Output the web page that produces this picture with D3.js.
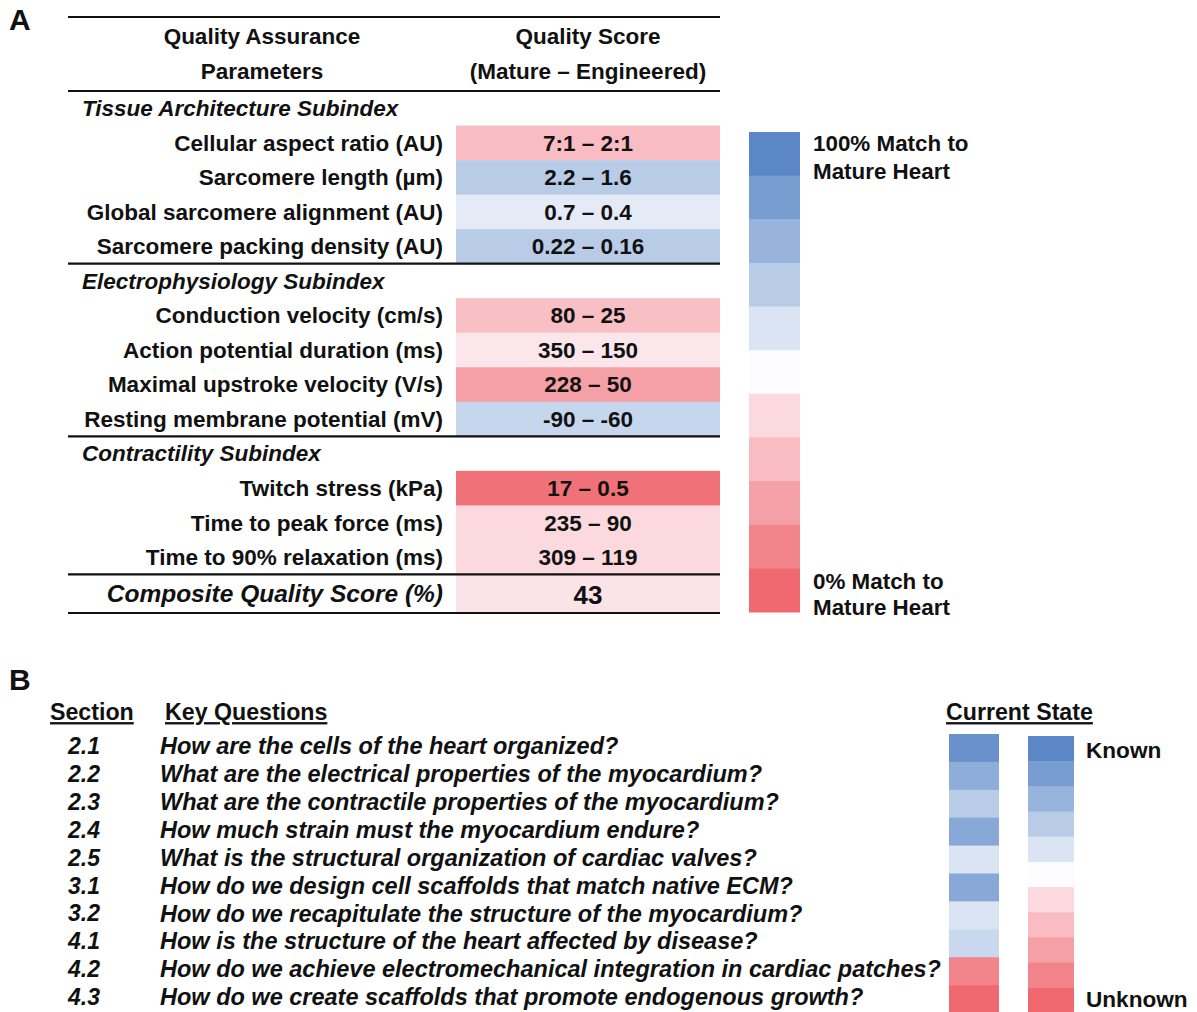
<!DOCTYPE html>
<html>
<head>
<meta charset="utf-8">
<script src="https://cdn.jsdelivr.net/npm/d3@7"></script>
<style>
  body { margin: 0; background: #fff; }
  text { fill: #111; font-family: "Liberation Sans", Arial, sans-serif; font-weight: bold; }
</style>
</head>
<body>
<div id="chart"></div>
<script>
// panel A: quality assurance table
let sections = ['Tissue Architecture Subindex', 'Electrophysiology Subindex', 'Contractility Subindex'];
let params = [
  'Cellular aspect ratio (AU)', 'Sarcomere length (\u00b5m)', 'Global sarcomere alignment (AU)', 'Sarcomere packing density (AU)',
  'Conduction velocity (cm/s)', 'Action potential duration (ms)', 'Maximal upstroke velocity (V/s)', 'Resting membrane potential (mV)',
  'Twitch stress (kPa)', 'Time to peak force (ms)', 'Time to 90% relaxation (ms)'
];
let paramSection = [0, 0, 0, 0, 1, 1, 1, 1, 2, 2, 2];
let scoreLabels = ['7:1 \u2013 2:1', '2.2 \u2013 1.6', '0.7 \u2013 0.4', '0.22 \u2013 0.16',
  '80 \u2013 25', '350 \u2013 150', '228 \u2013 50', '-90 \u2013 -60',
  '17 \u2013 0.5', '235 \u2013 90', '309 \u2013 119'];
// % match to mature heart
let matchPct = [30, 70, 57, 70, 31, 44, 20, 66, 3, 40, 40];
let compositeScore = 43;

// colour key: 100% match (top) to 0% match (bottom)
let keySteps = [100, 90, 80, 70, 60, 50, 40, 30, 20, 10, 0];
let keyColors = ['#5b87c6', '#779dd1', '#98b4dd', '#b8cce8', '#dae4f3', '#fcfcfe',
  '#fbd9de', '#f8bcc2', '#f5a0a6', '#f2858b', '#f06970'];

// panel B: key questions
let sectionNums = ['2.1', '2.2', '2.3', '2.4', '2.5', '3.1', '3.2', '4.1', '4.2', '4.3'];
let questions = [
  'How are the cells of the heart organized?',
  'What are the electrical properties of the myocardium?',
  'What are the contractile properties of the myocardium?',
  'How much strain must the myocardium endure?',
  'What is the structural organization of cardiac valves?',
  'How do we design cell scaffolds that match native ECM?',
  'How do we recapitulate the structure of the myocardium?',
  'How is the structure of the heart affected by disease?',
  'How do we achieve electromechanical integration in cardiac patches?',
  'How do we create scaffolds that promote endogenous growth?'
];
// how well known (100 = known, 0 = unknown)
let knownPct = [95, 83, 70, 85, 60, 85, 60, 65, 10, 0];

let width = 1197, height = 1012;
let svg = d3.select('#chart').append('svg')
  .attr('width', width)
  .attr('height', height);

let color = d3.scaleLinear()
  .domain(keySteps)
  .range(keyColors)
  .interpolate(d3.interpolateRgb);

// ---------- panel A ----------
svg.append('text')
  .attr('x', 9).attr('y', 30)
  .style('font-size', '30px')
  .text('A');

let tableLeft = 68, tableRight = 720, cellLeft = 456, labelRight = 443, tableBottom = 613;
let cellMid = (cellLeft + tableRight) / 2;
let fs = '22.5px';

// row layout: section label, its params ..., composite
let rows = [];
sections.forEach((s, si) => {
  rows.push({ type: 'section', label: s, id: 's' + si });
  params.forEach((p, i) => {
    if (paramSection[i] === si) {
      rows.push({ type: 'param', label: p, score: scoreLabels[i], match: matchPct[i], id: 'p' + i });
    }
  });
});
rows.push({ type: 'composite', label: 'Composite Quality Score (%)', score: String(compositeScore), match: compositeScore, id: 'c' });

let y = d3.scaleBand()
  .domain(rows.map(d => d.id))
  .range([91, 609]);

let rowH = d => d.type === 'composite' ? tableBottom - y(d.id) : y.bandwidth();
let rowMid = d => y(d.id) + rowH(d) / 2;

let table = svg.append('g');

table.selectAll('rect.cell')
  .data(rows.filter(d => d.type !== 'section'))
  .enter().append('rect')
  .attr('class', 'cell')
  .attr('x', cellLeft)
  .attr('y', d => y(d.id))
  .attr('width', tableRight - cellLeft)
  .attr('height', d => rowH(d) + 0.5)
  .attr('fill', d => color(d.match));

// header
let header = [
  { x: 262, lines: ['Quality Assurance', 'Parameters'] },
  { x: cellMid, lines: ['Quality Score', '(Mature \u2013 Engineered)'] }
];
header.forEach(h => {
  h.lines.forEach((l, i) => {
    table.append('text')
      .attr('x', h.x).attr('y', 36 + i * 35)
      .attr('dy', '0.35em')
      .attr('text-anchor', 'middle')
      .style('font-size', fs)
      .text(l);
  });
});

table.selectAll('text.sec')
  .data(rows.filter(d => d.type === 'section'))
  .enter().append('text')
  .attr('class', 'sec')
  .attr('x', 82)
  .attr('y', rowMid)
  .attr('dy', '0.35em')
  .style('font-size', fs)
  .style('font-style', 'italic')
  .text(d => d.label);

table.selectAll('text.param')
  .data(rows.filter(d => d.type === 'param'))
  .enter().append('text')
  .attr('class', 'param')
  .attr('x', labelRight)
  .attr('y', rowMid)
  .attr('dy', '0.35em')
  .attr('text-anchor', 'end')
  .style('font-size', fs)
  .text(d => d.label);

table.selectAll('text.score')
  .data(rows.filter(d => d.type === 'param'))
  .enter().append('text')
  .attr('class', 'score')
  .attr('x', cellMid)
  .attr('y', rowMid)
  .attr('dy', '0.35em')
  .attr('text-anchor', 'middle')
  .style('font-size', fs)
  .text(d => d.score);

let comp = rows[rows.length - 1];
table.append('text')
  .attr('x', labelRight)
  .attr('y', rowMid(comp))
  .attr('dy', '0.35em')
  .attr('text-anchor', 'end')
  .style('font-size', '24.5px')
  .style('font-style', 'italic')
  .text(comp.label);
table.append('text')
  .attr('x', cellMid)
  .attr('y', rowMid(comp) + 1)
  .attr('dy', '0.35em')
  .attr('text-anchor', 'middle')
  .style('font-size', '26px')
  .text(comp.score);

// rules: top, under header, before each new section, before composite, bottom
let ruleYs = [17, 91];
rows.forEach((d, i) => {
  if (i > 0 && (d.type === 'section' || d.type === 'composite')) ruleYs.push(y(d.id));
});
ruleYs.push(tableBottom);
table.selectAll('line.rule')
  .data(ruleYs)
  .enter().append('line')
  .attr('class', 'rule')
  .attr('x1', tableLeft).attr('x2', tableRight)
  .attr('y1', d => d).attr('y2', d => d)
  .attr('stroke', '#111')
  .attr('stroke-width', 2.2);

// colour key A
let keyY = d3.scaleBand()
  .domain(keySteps)
  .range([132, 612]);
let keyA = svg.append('g');
keyA.selectAll('rect')
  .data(keySteps)
  .enter().append('rect')
  .attr('x', 749)
  .attr('y', d => keyY(d))
  .attr('width', 51)
  .attr('height', keyY.bandwidth() + 0.5)
  .attr('fill', d => color(d));
[['100% Match to', 143], ['Mature Heart', 171], ['0% Match to', 581], ['Mature Heart', 607]].forEach(t => {
  keyA.append('text')
    .attr('x', 813).attr('y', t[1])
    .attr('dy', '0.35em')
    .style('font-size', '22.4px')
    .text(t[0]);
});

// ---------- panel B ----------
svg.append('text')
  .attr('x', 9).attr('y', 690)
  .style('font-size', '30px')
  .text('B');

let heads = [['Section', 50], ['Key Questions', 165], ['Current State', 946]];
heads.forEach(h => {
  svg.append('text')
    .attr('x', h[1]).attr('y', 712)
    .attr('dy', '0.35em')
    .style('font-size', '23.2px')
    .style('text-decoration', 'underline')
    .text(h[0]);
});

let yb = d3.scaleBand()
  .domain(sectionNums)
  .range([734, 1013]);

let qb = svg.append('g');
qb.selectAll('text.num')
  .data(sectionNums)
  .enter().append('text')
  .attr('class', 'num')
  .attr('x', 68)
  .attr('y', d => yb(d) + yb.bandwidth() / 2 - 2)
  .attr('dy', '0.35em')
  .style('font-size', '23px')
  .style('font-style', 'italic')
  .text(d => d);

qb.selectAll('text.q')
  .data(questions)
  .enter().append('text')
  .attr('class', 'q')
  .attr('x', 160)
  .attr('y', (d, i) => yb(sectionNums[i]) + yb.bandwidth() / 2 - 2)
  .attr('dy', '0.35em')
  .style('font-size', '23.5px')
  .style('font-style', 'italic')
  .text(d => d);

qb.selectAll('rect.state')
  .data(knownPct)
  .enter().append('rect')
  .attr('class', 'state')
  .attr('x', 949)
  .attr('y', (d, i) => yb(sectionNums[i]))
  .attr('width', 50)
  .attr('height', yb.bandwidth() + 0.5)
  .attr('fill', d => color(d));

// colour key B
let keyYB = d3.scaleBand()
  .domain(keySteps)
  .range([736, 1013]);
qb.selectAll('rect.key')
  .data(keySteps)
  .enter().append('rect')
  .attr('class', 'key')
  .attr('x', 1028)
  .attr('y', d => keyYB(d))
  .attr('width', 46)
  .attr('height', keyYB.bandwidth() + 0.5)
  .attr('fill', d => color(d));
[['Known', 750], ['Unknown', 999]].forEach(t => {
  qb.append('text')
    .attr('x', 1086).attr('y', t[1])
    .attr('dy', '0.35em')
    .style('font-size', '22.6px')
    .text(t[0]);
});
</script>
</body>
</html>
